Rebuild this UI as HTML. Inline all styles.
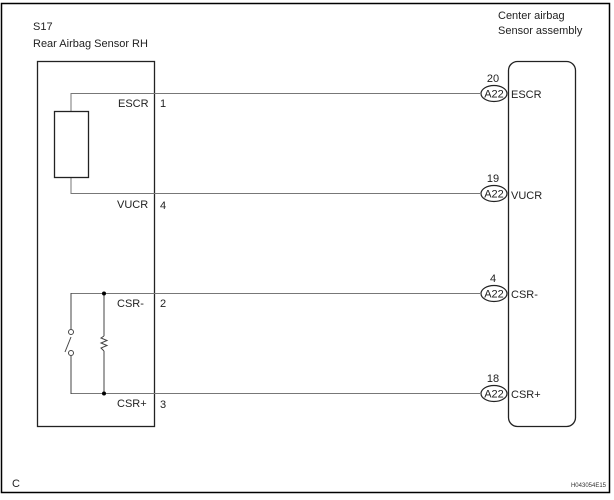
<!DOCTYPE html>
<html><head><style>body{margin:0;background:#fff}svg{display:block}</style></head><body>
<svg width="614" height="500" viewBox="0 0 614 500" xmlns="http://www.w3.org/2000/svg" font-family="Liberation Sans, Arial, sans-serif">
<rect x="1.5" y="3.5" width="608" height="489" fill="none" stroke="#000" stroke-width="1.5"/>
<g font-size="11" fill="#222">
<text x="33" y="30">S17</text>
<text x="33" y="47">Rear Airbag Sensor RH</text>
<text x="498" y="19">Center airbag</text>
<text x="498" y="34">Sensor assembly</text>
</g>
<rect x="37.5" y="61.5" width="117" height="365" fill="none" stroke="#222" stroke-width="1.3"/>
<rect x="508.5" y="61.5" width="67" height="365" rx="9" fill="none" stroke="#222" stroke-width="1.3"/>
<g stroke="#777" stroke-width="1" fill="none">
<line x1="71" y1="93.5" x2="480" y2="93.5"/>
<line x1="71" y1="193.5" x2="480" y2="193.5"/>
<line x1="71" y1="293.5" x2="480" y2="293.5"/>
<line x1="71" y1="393.5" x2="480" y2="393.5"/>
<line x1="71" y1="93" x2="71" y2="111"/>
<line x1="71" y1="177" x2="71" y2="194"/>
</g>
<g stroke="#444" stroke-width="1" fill="none">
<rect x="54.5" y="111.5" width="34" height="66" stroke="#222" stroke-width="1.3"/>
<line x1="71" y1="293" x2="71" y2="329"/>
<line x1="71" y1="356" x2="71" y2="394"/>
<circle cx="71" cy="332" r="2.5" fill="#fff"/>
<circle cx="71" cy="353" r="2.5" fill="#fff"/>
<line x1="65" y1="352" x2="71" y2="337"/>
<line x1="104" y1="293" x2="104" y2="336"/>
<polyline points="104,336 101,338 107,340.5 101,343 107,345.5 101,348 104,351"/>
<line x1="104" y1="351" x2="104" y2="394"/>
</g>
<circle cx="104" cy="293.5" r="2" fill="#000"/>
<circle cx="104" cy="393.5" r="2" fill="#000"/>
<g font-size="11" fill="#222">
<text x="118" y="107">ESCR</text><text x="160" y="107">1</text>
<text x="117" y="208">VUCR</text><text x="160" y="209">4</text>
<text x="117" y="307">CSR-</text><text x="160" y="307">2</text>
<text x="117" y="407">CSR+</text><text x="160" y="408">3</text>
</g>
<g stroke="#222" stroke-width="1.2" fill="#fff">
<ellipse cx="494" cy="93.5" rx="13" ry="8"/>
<ellipse cx="494" cy="193.5" rx="13" ry="8"/>
<ellipse cx="494" cy="293.5" rx="13" ry="8"/>
<ellipse cx="494" cy="393.5" rx="13" ry="8"/>
</g>
<g font-size="11" fill="#222">
<text x="494" y="97.5" text-anchor="middle">A22</text>
<text x="494" y="197.5" text-anchor="middle">A22</text>
<text x="494" y="297.5" text-anchor="middle">A22</text>
<text x="494" y="397.5" text-anchor="middle">A22</text>
<text x="493" y="82" text-anchor="middle">20</text>
<text x="493" y="182" text-anchor="middle">19</text>
<text x="493" y="282" text-anchor="middle">4</text>
<text x="493" y="382" text-anchor="middle">18</text>
<text x="511" y="98">ESCR</text>
<text x="511" y="199">VUCR</text>
<text x="511" y="298">CSR-</text>
<text x="511" y="398">CSR+</text>
<text x="12" y="487">C</text>
</g>
<text x="606" y="487" font-size="6" fill="#333" text-anchor="end">H043054E15</text>
</svg>
</body></html>
